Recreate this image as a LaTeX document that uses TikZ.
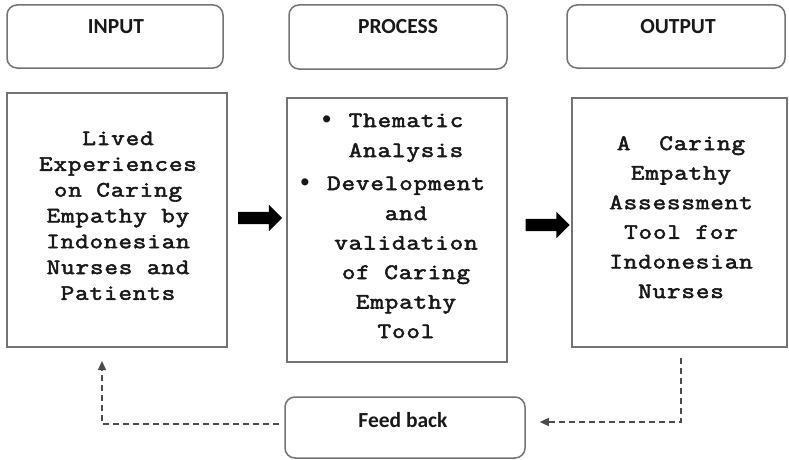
\documentclass[tikz,border=0pt]{standalone}
\usepackage{fontspec}
\newfontfamily\bodyfont{Latin Modern Mono}[FakeBold=2.5, FakeStretch=1.2, LetterSpace=3.8]
\newfontfamily\bulletfont{Liberation Mono}
\newfontfamily\hdrfont{Carlito}
\usetikzlibrary{arrows.meta,shapes.arrows}

\tikzset{
  hdrbox/.style={draw=black!55, line width=1.5pt, rounded corners=10pt,
    minimum width=216pt, minimum height=63pt, inner sep=0pt},
  mainbox/.style={draw=black!55, line width=1.6pt, inner sep=0pt},
  hdrtext/.style={font=\hdrfont\bfseries\fontsize{21.5}{24}\selectfont,
    anchor=base, inner sep=0pt, text=black!90},
  bodytext/.style={font=\bodyfont\fontsize{22}{26}\selectfont,
    anchor=base, inner sep=0pt, text=black!90},
  blockarrow/.style={single arrow, fill=black, draw=none, inner xsep=0pt,
    inner ysep=6pt, text height=0pt, text depth=0pt,
    minimum height=44pt, minimum width=26pt, single arrow head extend=7pt},
  fbline/.style={draw=black!70, line width=1.3pt, dash pattern=on 6pt off 4pt,
    -{Triangle[length=9pt,width=8pt]}}
}
\newcommand{\bul}{\llap{\bulletfont\bfseries\fontsize{24.5}{26}\selectfont\symbol{"2022} }}

\begin{document}
\begin{tikzpicture}[x=1pt,y=-1pt]
  \useasboundingbox (0,0) rectangle (789,460);

  % column headings
  \node[hdrbox] (inhdr)  at (115,36.5) {};
  \node[hdrbox, minimum width=218pt, minimum height=64pt] (prhdr) at (398,37) {};
  \node[hdrbox, minimum width=218pt] (outhdr) at (676,36.5) {};
  \node[hdrtext] (inlbl)  at (116,34) {INPUT};
  \node[hdrtext] (prlbl)  at (398,34) {PROCESS};
  \node[hdrtext] (outlbl) at (678,34) {OUTPUT};

  % content boxes
  \node[mainbox, minimum width=220pt, minimum height=254pt] (inbox)  at (117,220) {};
  \node[mainbox, minimum width=220pt, minimum height=264pt] (prbox)  at (397,230) {};
  \node[mainbox, minimum width=215pt, minimum height=249pt] (outbox) at (679.5,222.5) {};

  % input text
  \foreach \t [count=\i] in {Lived,Experiences,on Caring,Empathy by,Indonesian,Nurses and,Patients}
    \node[bodytext] (intxt\i) at (118,{145+(\i-1)*25.8}) {\t};

  % process text
  \node[bodytext] (prtxt1) at (406,127) {\bul Thematic};
  \node[bodytext] (prtxt2) at (406,157) {Analysis};
  \node[bodytext] (prtxt3) at (406,190) {\bul Development};
  \foreach \t [count=\i from 4] in {and,validation,of Caring,Empathy,Tool}
    \node[bodytext] (prtxt\i) at (406,{220+(\i-4)*29.5}) {\t};

  % output text
  \foreach \t [count=\i] in {A\ \ Caring,Empathy,Assessment,Tool for,Indonesian,Nurses}
    \node[bodytext] (outtxt\i) at (681,{150+(\i-1)*29.6}) {\t};

  % flow arrows
  \node[blockarrow] (arr1) at (257,218) {};
  \node[blockarrow] (arr2) at (544.5,225) {};

  % feedback loop
  \node[hdrbox, minimum width=240pt, minimum height=61pt] (fbbox) at (405,427.5) {};
  \node[hdrtext] (fblbl) at (403,427) {Feed back};
  \coordinate (fbstart) at (681,358);
  \coordinate (fbend) at (102,361);
  \draw[fbline] (fbstart) |- ([xshift=14pt,yshift=5.5pt]fbbox.east);
  \draw[fbline] ([xshift=-5pt,yshift=3.5pt]fbbox.west) -| (fbend);
\end{tikzpicture}
\end{document}
